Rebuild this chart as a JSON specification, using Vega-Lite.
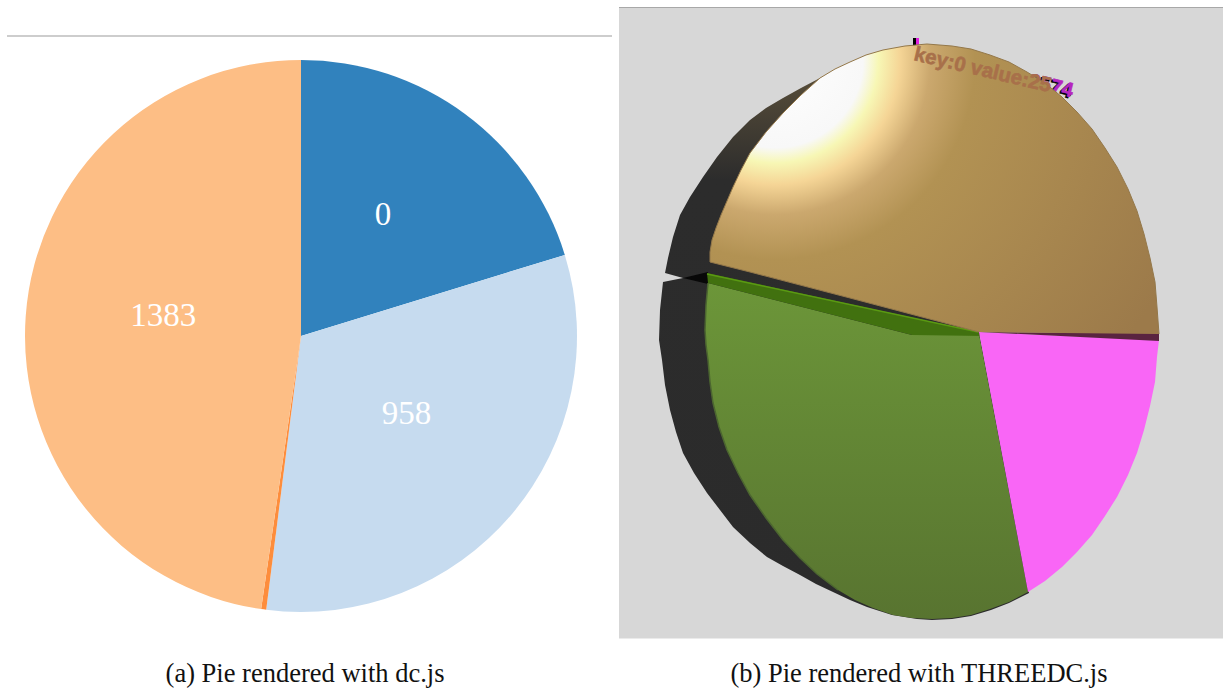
{
"$schema":"https://vega.github.io/schema/vega-lite/v6.json",
"padding":0,"spacing":0,"background":"white",
"config":{"view":{"stroke":null},"concat":{"spacing":0}},
"datasets":{
"slices":[{"k":1,"name":"0","v":1093,"label":"0"},{"k":2,"name":"958","v":1714,"label":"958"},{"k":3,"name":"small","v":16,"label":""},{"k":4,"name":"1383","v":2574,"label":"1383"}],
"dark":[{"i":0,"x":840,"y":70},{"i":1,"x":820,"y":78},{"i":2,"x":801,"y":88},{"i":3,"x":783,"y":98},{"i":4,"x":766,"y":108},{"i":5,"x":750,"y":120},{"i":6,"x":733,"y":137},{"i":7,"x":717,"y":157},{"i":8,"x":703,"y":177},{"i":9,"x":690,"y":197},{"i":10,"x":680,"y":215},{"i":11,"x":673,"y":237},{"i":12,"x":668,"y":258},{"i":13,"x":665,"y":273},{"i":14,"x":683,"y":278},{"i":15,"x":663,"y":282},{"i":16,"x":660,"y":310},{"i":17,"x":659,"y":340},{"i":18,"x":662,"y":360},{"i":19,"x":665,"y":385},{"i":20,"x":670,"y":410},{"i":21,"x":676,"y":432},{"i":22,"x":683,"y":453},{"i":23,"x":694,"y":473},{"i":24,"x":707,"y":493},{"i":25,"x":720,"y":510},{"i":26,"x":733,"y":527},{"i":27,"x":750,"y":543},{"i":28,"x":767,"y":557},{"i":29,"x":783,"y":566},{"i":30,"x":800,"y":575},{"i":31,"x":816,"y":584},{"i":32,"x":833,"y":592},{"i":33,"x":850,"y":600},{"i":34,"x":867,"y":607},{"i":35,"x":892,"y":615},{"i":36,"x":917,"y":619},{"i":37,"x":932,"y":620},{"i":38,"x":952,"y":619},{"i":39,"x":971,"y":616},{"i":40,"x":991,"y":610},{"i":41,"x":1009,"y":603},{"i":42,"x":1029,"y":593},{"i":43,"x":979,"y":332},{"i":44,"x":840,"y":200}],
"wedge":[{"i":0,"x":683,"y":278},{"i":1,"x":708,"y":272},{"i":2,"x":708,"y":284}],
"stripe":[{"i":0,"x":979,"y":332},{"i":1,"x":1159,"y":333},{"i":2,"x":1159,"y":341}],
"green":[{"i":0,"x":708,"y":283},{"i":1,"x":912,"y":335},{"i":2,"x":979,"y":334},{"i":3,"x":1028,"y":592},{"i":4,"x":1009,"y":602},{"i":5,"x":990,"y":609},{"i":6,"x":971,"y":615},{"i":7,"x":952,"y":618},{"i":8,"x":932,"y":619},{"i":9,"x":912,"y":618},{"i":10,"x":893,"y":615},{"i":11,"x":873,"y":608},{"i":12,"x":855,"y":600},{"i":13,"x":838,"y":590},{"i":14,"x":817,"y":574},{"i":15,"x":800,"y":558},{"i":16,"x":783,"y":540},{"i":17,"x":766,"y":518},{"i":18,"x":750,"y":495},{"i":19,"x":738,"y":473},{"i":20,"x":727,"y":450},{"i":21,"x":719,"y":427},{"i":22,"x":713,"y":403},{"i":23,"x":710,"y":382},{"i":24,"x":708,"y":360},{"i":25,"x":706,"y":345},{"i":26,"x":705,"y":330},{"i":27,"x":706,"y":305}],
"greenRim":[{"i":0,"x":838,"y":590},{"i":1,"x":817,"y":574},{"i":2,"x":800,"y":558},{"i":3,"x":783,"y":540},{"i":4,"x":766,"y":518},{"i":5,"x":750,"y":495},{"i":6,"x":738,"y":473},{"i":7,"x":727,"y":450},{"i":8,"x":719,"y":427},{"i":9,"x":713,"y":403},{"i":10,"x":710,"y":382},{"i":11,"x":708,"y":360},{"i":12,"x":706,"y":345},{"i":13,"x":705,"y":330},{"i":14,"x":706,"y":305},{"i":15,"x":708,"y":283}],
"greenDark":[{"i":0,"x":707,"y":273},{"i":1,"x":979,"y":332},{"i":2,"x":985,"y":336},{"i":3,"x":912,"y":335},{"i":4,"x":708,"y":283}],
"greenEdge":[{"i":0,"x":707,"y":274},{"i":1,"x":978,"y":332}],
"tan":[{"i":0,"x":979,"y":332},{"i":1,"x":850,"y":298},{"i":2,"x":750,"y":272},{"i":3,"x":710,"y":262},{"i":4,"x":710,"y":252},{"i":5,"x":712,"y":240},{"i":6,"x":716,"y":228},{"i":7,"x":721,"y":215},{"i":8,"x":727,"y":201},{"i":9,"x":733,"y":187},{"i":10,"x":741,"y":170},{"i":11,"x":750,"y":153},{"i":12,"x":766,"y":132},{"i":13,"x":783,"y":113},{"i":14,"x":801,"y":95},{"i":15,"x":820,"y":78},{"i":16,"x":835,"y":69},{"i":17,"x":850,"y":62},{"i":18,"x":866,"y":55},{"i":19,"x":883,"y":50},{"i":20,"x":905,"y":46},{"i":21,"x":927,"y":44},{"i":22,"x":952,"y":46},{"i":23,"x":971,"y":49},{"i":24,"x":990,"y":55},{"i":25,"x":1009,"y":62},{"i":26,"x":1027,"y":72},{"i":27,"x":1045,"y":83},{"i":28,"x":1062,"y":97},{"i":29,"x":1077,"y":112},{"i":30,"x":1092,"y":129},{"i":31,"x":1105,"y":148},{"i":32,"x":1117,"y":167},{"i":33,"x":1128,"y":189},{"i":34,"x":1137,"y":211},{"i":35,"x":1144,"y":234},{"i":36,"x":1150,"y":258},{"i":37,"x":1155,"y":282},{"i":38,"x":1157,"y":307},{"i":39,"x":1159,"y":334}],
"magenta":[{"i":0,"x":979,"y":332},{"i":1,"x":1159,"y":340},{"i":2,"x":1157,"y":357},{"i":3,"x":1155,"y":382},{"i":4,"x":1150,"y":406},{"i":5,"x":1144,"y":430},{"i":6,"x":1137,"y":453},{"i":7,"x":1128,"y":475},{"i":8,"x":1117,"y":497},{"i":9,"x":1105,"y":516},{"i":10,"x":1092,"y":535},{"i":11,"x":1077,"y":552},{"i":12,"x":1062,"y":567},{"i":13,"x":1045,"y":581},{"i":14,"x":1028,"y":592}],
"labelFull":[{"x":913,"y":60,"t":"key:0 value:2574"}],
"labelInside":[{"x":913,"y":60,"t":"key:0 value:25"}]
},
"hconcat":[
{"width":612,"height":691,
 "encoding":{"x":{"type":"quantitative","scale":{"domain":[0,612],"nice":false,"zero":false},"axis":null},"y":{"type":"quantitative","scale":{"domain":[691,0],"nice":false,"zero":false},"axis":null}},
 "layer":[
 {"data":{"values":[{"x":7,"x2":612,"y":36}]},"mark":{"type":"rule","stroke":"#bdbdbd","strokeWidth":1.5},"encoding":{"x":{"field":"x","type":"quantitative"},"x2":{"field":"x2"},"y":{"field":"y","type":"quantitative"}}},
 {"data":{"name":"slices"},"mark":{"type":"arc","radius":276},"encoding":{"x":{"datum":301,"type":"quantitative"},"y":{"datum":336,"type":"quantitative"},"theta":{"field":"v","type":"quantitative","stack":true,"scale":{"range":[0,6.2832]}},"order":{"field":"k"},"color":{"field":"name","type":"nominal","legend":null,"scale":{"domain":["0","958","small","1383"],"range":["#3182bd","#c6dbef","#fd8d3c","#fdbe85"]}}}},
 {"data":{"name":"slices"},"mark":{"type":"text","radius":138,"dy":-10.5,"font":"Liberation Serif","fontSize":33,"fill":"white","baseline":"middle","align":"center"},"encoding":{"x":{"datum":301,"type":"quantitative"},"y":{"datum":336,"type":"quantitative"},"theta":{"field":"v","type":"quantitative","stack":true,"scale":{"range":[0,6.2832]}},"order":{"field":"k"},"detail":{"field":"name"},"text":{"field":"label"}}},
 {"data":{"values":[{"x":305,"y":674,"t":"(a) Pie rendered with dc.js"}]},"mark":{"type":"text","font":"Liberation Serif","fontSize":26.5,"fill":"#111111","baseline":"middle","align":"center"},"encoding":{"x":{"field":"x","type":"quantitative"},"y":{"field":"y","type":"quantitative"},"text":{"field":"t"}}}
 ]},
{"width":611,"height":691,
 "encoding":{"x":{"type":"quantitative","scale":{"domain":[613,1224],"nice":false,"zero":false},"axis":null},"y":{"type":"quantitative","scale":{"domain":[691,0],"nice":false,"zero":false},"axis":null}},
 "layer":[
 {"data":{"values":[{"x":619,"x2":1224,"y":8,"y2":638.5}]},"mark":{"type":"rect","fill":"#d7d7d7"},"encoding":{"x":{"field":"x","type":"quantitative"},"x2":{"field":"x2"},"y":{"field":"y","type":"quantitative"},"y2":{"field":"y2"}}},
 {"data":{"values":[{"x":619,"x2":1224,"y":7.5}]},"mark":{"type":"rule","stroke":"#a8a8a8","strokeWidth":1},"encoding":{"x":{"field":"x","type":"quantitative"},"x2":{"field":"x2"},"y":{"field":"y","type":"quantitative"}}},
 {"data":{"values":[{"x":914.5,"y":38,"y2":46}]},"mark":{"type":"rule","stroke":"#000000","strokeWidth":3},"encoding":{"x":{"field":"x","type":"quantitative"},"y":{"field":"y","type":"quantitative"},"y2":{"field":"y2"}}},
 {"data":{"values":[{"x":917.5,"y":38,"y2":46}]},"mark":{"type":"rule","stroke":"#e020e0","strokeWidth":3},"encoding":{"x":{"field":"x","type":"quantitative"},"y":{"field":"y","type":"quantitative"},"y2":{"field":"y2"}}},
 {"data":{"name":"labelFull"},"mark":{"type":"text","angle":13.3,"font":"Liberation Sans","fontWeight":"bold","fontSize":20.5,"fill":"#000000","stroke":"#000000","strokeWidth":0.6,"align":"left","baseline":"alphabetic","dx":-1.5,"dy":1.5},"encoding":{"x":{"field":"x","type":"quantitative"},"y":{"field":"y","type":"quantitative"},"text":{"field":"t"}}},
 {"data":{"name":"labelFull"},"mark":{"type":"text","angle":13.3,"font":"Liberation Sans","fontWeight":"bold","fontSize":20.5,"fill":"#b526c0","stroke":"#b526c0","strokeWidth":0.6,"align":"left","baseline":"alphabetic"},"encoding":{"x":{"field":"x","type":"quantitative"},"y":{"field":"y","type":"quantitative"},"text":{"field":"t"}}},
 {"data":{"name":"dark"},"mark":{"type":"line","fill":{"gradient":"linear","x1":0,"y1":0,"x2":0,"y2":1,"stops":[{"offset":0,"color":"#5a4f3a"},{"offset":0.2,"color":"#2c2c2c"},{"offset":1,"color":"#2b2b2b"}]},"strokeWidth":0},"encoding":{"x":{"field":"x","type":"quantitative"},"y":{"field":"y","type":"quantitative"},"order":{"field":"i"}}},
 {"data":{"name":"wedge"},"mark":{"type":"line","fill":"#080808","strokeWidth":0},"encoding":{"x":{"field":"x","type":"quantitative"},"y":{"field":"y","type":"quantitative"},"order":{"field":"i"}}},
 {"data":{"name":"green"},"mark":{"type":"line","fill":{"gradient":"linear","x1":0,"y1":0,"x2":0,"y2":1,"stops":[{"offset":0,"color":"#6c9639"},{"offset":1,"color":"#587430"}]},"strokeWidth":0},"encoding":{"x":{"field":"x","type":"quantitative"},"y":{"field":"y","type":"quantitative"},"order":{"field":"i"}}},
 {"data":{"name":"greenRim"},"mark":{"type":"line","stroke":"#4c6630","strokeWidth":1.5},"encoding":{"x":{"field":"x","type":"quantitative"},"y":{"field":"y","type":"quantitative"},"order":{"field":"i"}}},
 {"data":{"name":"greenDark"},"mark":{"type":"line","fill":"#41710f","strokeWidth":0},"encoding":{"x":{"field":"x","type":"quantitative"},"y":{"field":"y","type":"quantitative"},"order":{"field":"i"}}},
 {"data":{"name":"greenEdge"},"mark":{"type":"line","stroke":"#5a9a12","strokeWidth":1.5},"encoding":{"x":{"field":"x","type":"quantitative"},"y":{"field":"y","type":"quantitative"},"order":{"field":"i"}}},
 {"data":{"name":"magenta"},"mark":{"type":"line","fill":"#f966f6","strokeWidth":0},"encoding":{"x":{"field":"x","type":"quantitative"},"y":{"field":"y","type":"quantitative"},"order":{"field":"i"}}},
 {"data":{"name":"stripe"},"mark":{"type":"line","fill":"#5a2440","strokeWidth":0},"encoding":{"x":{"field":"x","type":"quantitative"},"y":{"field":"y","type":"quantitative"},"order":{"field":"i"}}},
 {"data":{"name":"tan"},"mark":{"type":"line","fill":{"gradient":"radial","x1":0.145,"y1":0.212,"r1":0,"x2":0.145,"y2":0.212,"r2":1,"stops":[{"offset":0,"color":"#ffffff"},{"offset":0.196,"color":"#f8f8f8"},{"offset":0.23,"color":"#f7f7b5"},{"offset":0.278,"color":"#f5d596"},{"offset":0.345,"color":"#cba86e"},{"offset":0.445,"color":"#b29253"},{"offset":1,"color":"#9c7a4a"}]},"stroke":"#94784a","strokeWidth":1},"encoding":{"x":{"field":"x","type":"quantitative"},"y":{"field":"y","type":"quantitative"},"order":{"field":"i"}}},
 {"data":{"name":"labelInside"},"mark":{"type":"text","angle":13.3,"font":"Liberation Sans","fontWeight":"bold","fontSize":20.5,"fill":"#a8704a","stroke":"#a8704a","strokeWidth":0.6,"align":"left","baseline":"alphabetic"},"encoding":{"x":{"field":"x","type":"quantitative"},"y":{"field":"y","type":"quantitative"},"text":{"field":"t"}}},
 {"data":{"values":[{"x":919,"y":674,"t":"(b) Pie rendered with THREEDC.js"}]},"mark":{"type":"text","font":"Liberation Serif","fontSize":26.5,"fill":"#111111","baseline":"middle","align":"center"},"encoding":{"x":{"field":"x","type":"quantitative"},"y":{"field":"y","type":"quantitative"},"text":{"field":"t"}}}
 ]}
]}
